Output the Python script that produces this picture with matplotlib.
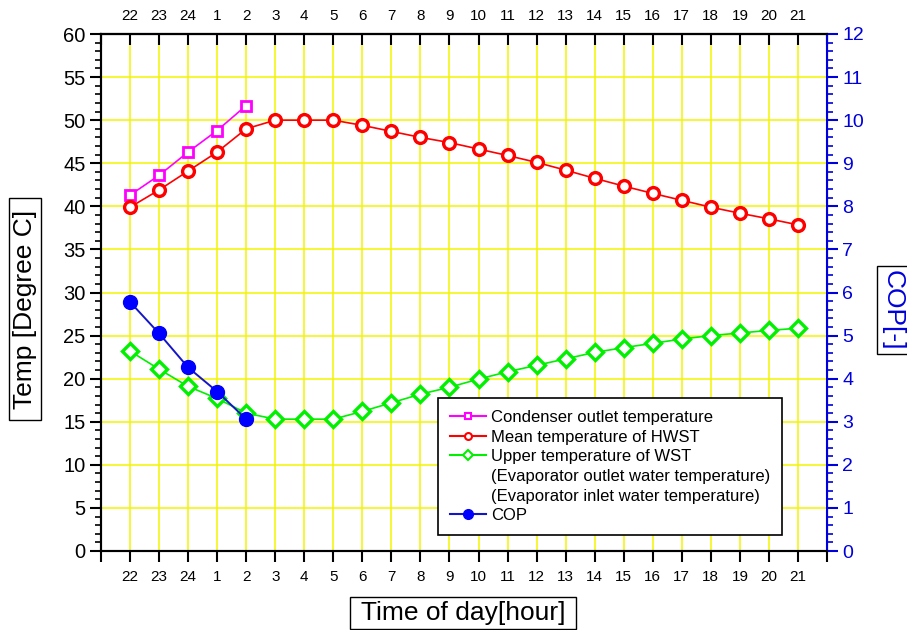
import matplotlib
matplotlib.use('Agg')
import matplotlib.pyplot as plt
from matplotlib.lines import Line2D
from matplotlib.ticker import MultipleLocator

plt.rcParams['font.family'] = ['Liberation Sans', 'DejaVu Sans']

hours = ['22', '23', '24', '1', '2', '3', '4', '5', '6', '7', '8', '9', '10',
         '11', '12', '13', '14', '15', '16', '17', '18', '19', '20', '21']
condenser_out = [41.3, 43.6, 46.3, 48.8, 51.7]
hwst_mean = [39.9, 41.9, 44.1, 46.3, 49.0, 50.0, 50.0, 50.0, 49.4, 48.7, 48.0, 47.4,
             46.65, 45.9, 45.1, 44.2, 43.25, 42.35, 41.5, 40.7, 39.9, 39.2, 38.55, 37.85]
wst_upper = [23.2, 21.1, 19.1, 17.7, 16.0, 15.3, 15.3, 15.3, 16.2, 17.2, 18.2, 19.0,
             19.95, 20.8, 21.55, 22.3, 23.05, 23.6, 24.1, 24.6, 25.0, 25.3, 25.6, 25.85]
cop = [5.78, 5.05, 4.26, 3.70, 3.06]

x = list(range(len(hours)))

fig = plt.figure(figsize=(9.07, 6.30), dpi=100)
ax = fig.add_axes([101/907, 1-551/630, 726/907, 517/630])
ax2 = ax.twinx()

ax.set_xlim(-1, 24)
ax.set_ylim(0, 60)
ax2.set_ylim(0, 12)

# grid
ax.set_xticks(range(-1, 25))
ax.set_xticklabels([''] + hours + [''], fontsize=11)
ax.yaxis.set_major_locator(MultipleLocator(5))
ax.yaxis.set_minor_locator(MultipleLocator(1))
for xi in x:
    ax.axvline(xi, color='#f4f400', lw=1.1, zorder=0)
for yi in range(5, 60, 5):
    ax.axhline(yi, color='#f4f400', lw=1.1, zorder=0)

ax.plot(x[:5], condenser_out, color='#ff00ff', marker='s', ms=7, mfc='white',
        mec='#ff00ff', mew=2, lw=1.2, zorder=3)
ax.plot(x, hwst_mean, color='#ff0000', marker='o', ms=8.5, mfc='white',
        mec='#ff0000', mew=2.4, lw=1.2, zorder=3)
ax.plot(x, wst_upper, color='#00f000', marker='D', ms=8.5, mfc='white',
        mec='#00f000', mew=2.4, lw=1.2, zorder=3)
ax2.plot(x[:5], cop, color='#1515c8', marker='o', ms=10, mfc='#0000ff',
         mec='#0000ff', lw=1.4, zorder=3)

ax.tick_params(axis='x', which='major', direction='out', length=8, width=1.5,
               pad=6, labelsize=11)
ax.tick_params(axis='y', which='major', direction='out', length=8, width=1.5,
               labelsize=14.5, pad=3)
ax.tick_params(axis='y', which='minor', direction='out', length=4, width=1.2)

top = ax.secondary_xaxis('top')
top.set_xticks(range(-1, 25))
top.set_xticklabels([''] + hours + [''])
top.tick_params(direction='in', length=8, width=1.5, labelsize=11, pad=8)
top.spines['top'].set_linewidth(1.5)

blue = '#0000dd'
ax2.yaxis.set_major_locator(MultipleLocator(1))
ax2.yaxis.set_minor_locator(MultipleLocator(0.2))
ax2.tick_params(axis='y', which='major', direction='out', length=8, width=1.5,
                colors=blue, labelsize=14, pad=3)
ax2.tick_params(axis='y', which='minor', direction='out', length=4, width=1.2,
                colors=blue)
ax2.spines['right'].set_color(blue)
ax2.spines['right'].set_linewidth(1.5)
for s in ['left', 'bottom', 'top']:
    ax.spines[s].set_linewidth(1.5)
    ax2.spines[s].set_linewidth(1.5)

box = dict(boxstyle='square,pad=0.15', fc='white', ec='black', lw=1)
fig.text(25/907, 1-309/630, ' Temp [Degree C] ', rotation=90, fontsize=19,
         ha='center', va='center', bbox=box)
fig.text(893/907, 1-310/630, 'COP[-]', rotation=-90, fontsize=19, color=blue,
         ha='center', va='center', bbox=box)
fig.text(463/907, 1-613/630, ' Time of day[hour] ', fontsize=19,
         ha='center', va='center', bbox=box)

handles = [
    Line2D([], [], color='#ff00ff', marker='s', ms=5, mfc='white', mec='#ff00ff', mew=1.5),
    Line2D([], [], color='#ff0000', marker='o', ms=5, mfc='white', mec='#ff0000', mew=1.5),
    Line2D([], [], color='#00f000', marker='D', ms=5, mfc='white', mec='#00f000', mew=1.5),
    Line2D([], [], color='none'),
    Line2D([], [], color='none'),
    Line2D([], [], color='#1515c8', marker='o', ms=7, mfc='#0000ff', mec='#0000ff'),
]
labels = ['Condenser outlet temperature', 'Mean temperature of HWST',
          'Upper temperature of WST', '(Evaporator outlet water temperature)',
          '(Evaporator inlet water temperature)', 'COP']
leg = ax2.legend(handles, labels, loc='lower left', bbox_to_anchor=(0.464, 0.031),
                 fontsize=12, frameon=True, fancybox=False, edgecolor='black',
                 framealpha=1, handlelength=2.2, handletextpad=0.3,
                 labelspacing=0.28, borderpad=0.7, borderaxespad=0)
leg.get_frame().set_linewidth(1.2)

fig.savefig('out.png', dpi=100)
